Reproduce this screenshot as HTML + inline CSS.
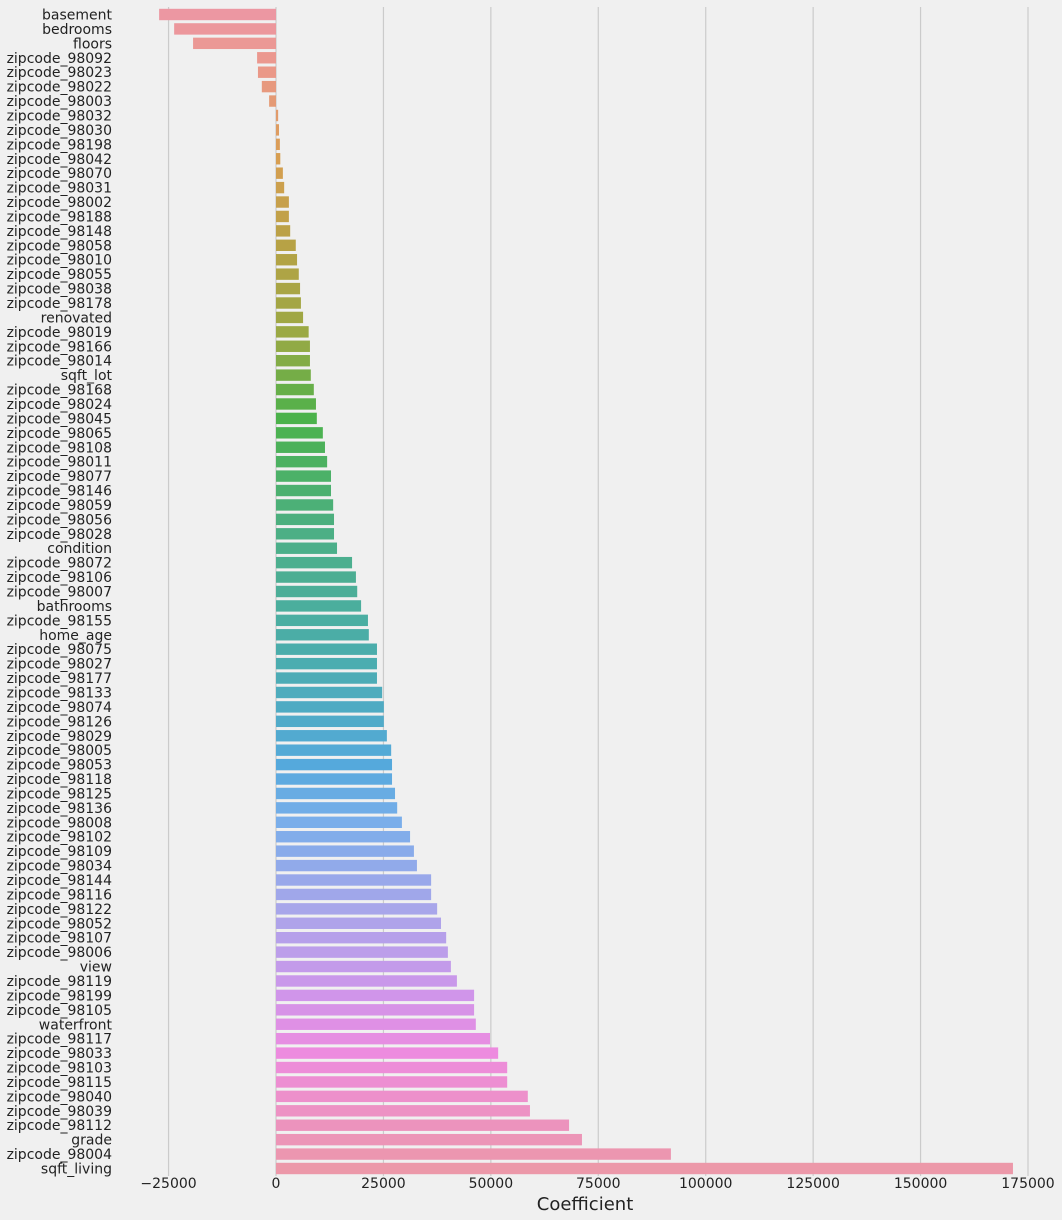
<!DOCTYPE html>
<html><head><meta charset="utf-8"><style>
html,body{margin:0;padding:0;background:#f0f0f0;}
svg{display:block;font-family:"DejaVu Sans","Liberation Sans",sans-serif;}
</style></head><body>
<svg id="chart" width="1062" height="1220" viewBox="0 0 1062 1220" xmlns="http://www.w3.org/2000/svg">
<rect x="0" y="0" width="1062" height="1220" fill="#f0f0f0"/>
<g id="grid"></g><g id="bars"></g><g id="ylabels"></g><g id="xticks"></g>
<text x="585" y="1210" text-anchor="middle" font-size="18" fill="#222">Coefficient</text>
</svg>
<script>
const categories = ["basement","bedrooms","floors","zipcode_98092","zipcode_98023","zipcode_98022","zipcode_98003","zipcode_98032","zipcode_98030","zipcode_98198","zipcode_98042","zipcode_98070","zipcode_98031","zipcode_98002","zipcode_98188","zipcode_98148","zipcode_98058","zipcode_98010","zipcode_98055","zipcode_98038","zipcode_98178","renovated","zipcode_98019","zipcode_98166","zipcode_98014","sqft_lot","zipcode_98168","zipcode_98024","zipcode_98045","zipcode_98065","zipcode_98108","zipcode_98011","zipcode_98077","zipcode_98146","zipcode_98059","zipcode_98056","zipcode_98028","condition","zipcode_98072","zipcode_98106","zipcode_98007","bathrooms","zipcode_98155","home_age","zipcode_98075","zipcode_98027","zipcode_98177","zipcode_98133","zipcode_98074","zipcode_98126","zipcode_98029","zipcode_98005","zipcode_98053","zipcode_98118","zipcode_98125","zipcode_98136","zipcode_98008","zipcode_98102","zipcode_98109","zipcode_98034","zipcode_98144","zipcode_98116","zipcode_98122","zipcode_98052","zipcode_98107","zipcode_98006","view","zipcode_98119","zipcode_98199","zipcode_98105","waterfront","zipcode_98117","zipcode_98033","zipcode_98103","zipcode_98115","zipcode_98040","zipcode_98039","zipcode_98112","grade","zipcode_98004","sqft_living"];
const values = [-27200,-23700,-19300,-4400,-4200,-3300,-1600,500,700,900,1000,1600,1900,3000,3000,3300,4600,4900,5300,5600,5800,6300,7600,7900,7900,8100,8800,9300,9500,10900,11400,11900,12800,12800,13300,13500,13500,14200,17700,18600,18900,19800,21400,21600,23500,23500,23500,24700,25100,25100,25800,26800,27000,27000,27700,28200,29300,31200,32100,32800,36100,36100,37500,38400,39600,40000,40700,42100,46100,46100,46500,49800,51700,53800,53800,58600,59100,68200,71200,91900,171500];
const xTicks = [-25000,0,25000,50000,75000,100000,125000,150000,175000];
const xTickLabels = ["\u221225000","0","25000","50000","75000","100000","125000","150000","175000"];

const NS="http://www.w3.org/2000/svg";
const x0px=276, pxPerUnit=752/175000;
function xs(v){return x0px+v*pxPerUnit;}
const yTop=14.5, step=14.425, barH=11.4;
function ys(i){return yTop+i*step;}
const axTop=7, axBot=1176;
const stops=[[0,"#ec97a2"],[0.05,"#ea9888"],[0.12,"#d99e52"],[0.2,"#b7a245"],[0.28,"#99a944"],[0.35,"#4cb24b"],[0.45,"#4caf85"],[0.56,"#4badaf"],[0.65,"#55a9dc"],[0.7,"#7aaeea"],[0.78,"#aba5ea"],[0.85,"#d095ea"],[0.9,"#ed8bdf"],[1,"#ec98a9"]];
function hex(c){return [1,3,5].map(k=>parseInt(c.substr(k,2),16));}
function color(t){for(let k=0;k<stops.length-1;k++){const a=stops[k],b=stops[k+1];if(t<=b[0]){const f=(t-a[0])/(b[0]-a[0]);const A=hex(a[1]),B=hex(b[1]);return "rgb("+A.map((v,j)=>Math.round(v+(B[j]-v)*f)).join(",")+")";}}return stops[stops.length-1][1];}

const grid=document.getElementById("grid"), xt=document.getElementById("xticks");
xTicks.forEach((t,i)=>{
  const l=document.createElementNS(NS,"line");
  l.setAttribute("x1",xs(t));l.setAttribute("x2",xs(t));l.setAttribute("y1",axTop);l.setAttribute("y2",axBot);
  l.setAttribute("stroke","#cbcbcb");l.setAttribute("stroke-width","1.2");
  
  
  grid.appendChild(l);
  const tx=document.createElementNS(NS,"text");
  tx.setAttribute("x",xs(t));tx.setAttribute("y",1188);tx.setAttribute("text-anchor","middle");
  tx.setAttribute("font-size","14");tx.setAttribute("fill","#222");
  tx.textContent=xTickLabels[i];
  
  
  xt.appendChild(tx);
});
const bars=document.getElementById("bars"), yl=document.getElementById("ylabels");
categories.forEach((c,i)=>{
  const v=values[i];
  const r=document.createElementNS(NS,"rect");
  const a=xs(Math.min(0,v)), b=xs(Math.max(0,v));
  r.setAttribute("x",a);r.setAttribute("width",Math.max(0.5,b-a));
  r.setAttribute("y",ys(i)-barH/2);r.setAttribute("height",barH);
  r.setAttribute("fill",color(i/(categories.length-1)));
  
  
  bars.appendChild(r);
  const t=document.createElementNS(NS,"text");
  t.setAttribute("x",112);t.setAttribute("y",ys(i)+5);t.setAttribute("text-anchor","end");
  t.setAttribute("font-size","14");t.setAttribute("fill","#222");
  t.textContent=c;
  
  
  yl.appendChild(t);
});
</script>
</body></html>
